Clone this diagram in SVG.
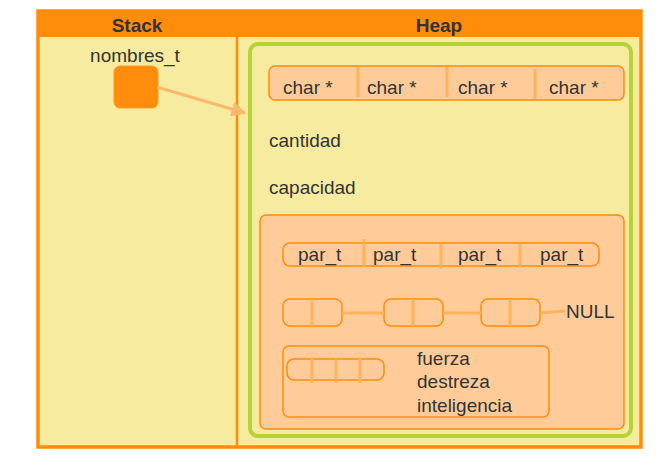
<svg xmlns="http://www.w3.org/2000/svg" width="664" height="460" viewBox="0 0 664 460">
<defs>
<style>
text{font-family:"Liberation Sans",Arial,sans-serif;fill:#333333;font-size:19px}
.hdr{font-weight:bold;text-anchor:middle}
.box{fill:#ffcc99;stroke:#ff8c0a;stroke-width:1.5}
.div{stroke:#ffb35c;stroke-width:3}
.lnk{stroke:#ffb35c;stroke-width:3;fill:none}
</style>
<marker id="ah" viewBox="0 0 10 10" refX="9" refY="5" markerWidth="5" markerHeight="5" orient="auto" markerUnits="strokeWidth">
<path d="M0,0 L10,5 L0,10 z" fill="#ffb86b"/>
</marker>
</defs>
<rect width="664" height="460" fill="#ffffff"/>
<g id="frame">
<rect x="38" y="11" width="603" height="436" fill="#f6eb9f" stroke="#ff8c0a" stroke-width="3.5"/>
<rect x="38" y="11" width="603" height="26" fill="#ff8c0a"/>
<line x1="237" y1="11" x2="237" y2="447" stroke="#ff8c0a" stroke-width="2.5"/>
<text class="hdr" x="137" y="32">Stack</text>
<text class="hdr" x="439" y="32">Heap</text>
</g>
<g id="nombres_t">
<text x="135" y="62" text-anchor="middle">nombres_t</text>
<rect x="114" y="66" width="44" height="42" rx="6" fill="#ff8c0a" stroke="#ff9a20" stroke-width="1"/>
</g>
<g id="heap_struct">
<rect x="250" y="44" width="381" height="392" rx="8" fill="none" stroke="#b5d334" stroke-width="4"/>
</g>
<g id="char_array">
<rect class="box" x="269" y="66" width="355" height="34" rx="6"/>
<line class="div" x1="358" y1="67" x2="358" y2="97"/>
<line class="div" x1="447" y1="67" x2="447" y2="97"/>
<line class="div" x1="535" y1="69" x2="535" y2="99"/>
<text x="283" y="94">char *</text>
<text x="367" y="94">char *</text>
<text x="458" y="94">char *</text>
<text x="549" y="94">char *</text>
</g>
<g id="cantidad"><text x="269" y="147">cantidad</text></g>
<g id="capacidad"><text x="269" y="194">capacidad</text></g>
<g id="inner">
<rect class="box" x="260" y="215" width="364" height="214" rx="6"/>
</g>
<g id="par_array">
<rect class="box" x="283" y="243" width="316" height="23" rx="7"/>
<line class="div" x1="364" y1="239" x2="364" y2="267"/>
<line class="div" x1="441" y1="244" x2="441" y2="269"/>
<line class="div" x1="520" y1="244" x2="520" y2="267"/>
<text x="298" y="261">par_t</text>
<text x="373" y="261">par_t</text>
<text x="458" y="261">par_t</text>
<text x="540" y="261">par_t</text>
</g>
<g id="list_node_1">
<rect class="box" x="283" y="299" width="59" height="27" rx="7"/>
<line class="div" x1="312" y1="299" x2="312" y2="326"/>
</g>
<g id="list_node_2">
<rect class="box" x="384" y="299" width="59" height="27" rx="7"/>
<line class="div" x1="413" y1="299" x2="413" y2="326"/>
</g>
<g id="list_node_3">
<rect class="box" x="481" y="299" width="59" height="27" rx="7"/>
<line class="div" x1="510" y1="299" x2="510" y2="326"/>
</g>
<g id="null"><text x="566" y="318">NULL</text></g>
<g id="struct_box">
<rect class="box" x="283" y="346" width="266" height="71" rx="6"/>
<rect class="box" x="287" y="359" width="97" height="21" rx="7"/>
<line class="div" x1="312" y1="357" x2="312" y2="383"/>
<line class="div" x1="336" y1="357" x2="336" y2="383"/>
<line class="div" x1="360" y1="357" x2="360" y2="383"/>
<text x="417" y="365">fuerza</text>
<text x="417" y="388">destreza</text>
<text x="417" y="412">inteligencia</text>
</g>
<g id="connectors">
<line x1="157" y1="87" x2="245" y2="113" stroke="#ffb86b" stroke-width="3" marker-end="url(#ah)"/>
<line class="lnk" x1="342" y1="313" x2="384" y2="313"/>
<line class="lnk" x1="443" y1="313" x2="481" y2="313"/>
<line class="lnk" x1="540" y1="313" x2="565" y2="311"/>
</g>
</svg>
